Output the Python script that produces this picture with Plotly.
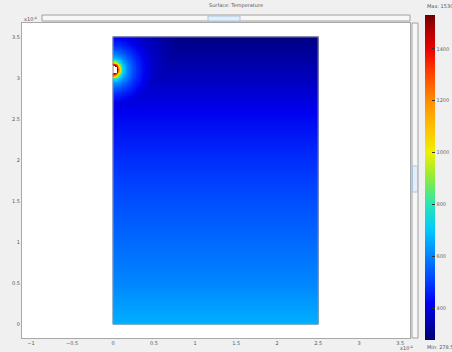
import numpy as np
import plotly.graph_objects as go

# ---- data ----
domain_width = 2.5          # x10^-4
domain_height = 3.5         # x10^-4
source_x = 0.0
source_y = 3.1
hole_radius = 0.05

# background temperature versus height (far from the source)
bg_y = [0.0, 0.5, 1.0, 1.5, 2.0, 2.5, 3.0, 3.5]
bg_T = [665, 605, 565, 525, 480, 430, 360, 300]

# temperature versus distance from the heat source
src_r = [0.05, 0.065, 0.08, 0.095, 0.11, 0.13, 0.16, 0.2, 0.25, 0.3, 0.4, 0.5, 0.8, 1.1]
src_T = [1530, 1350, 1150, 950, 820, 720, 640, 580, 520, 475, 415, 370, 315, 290]

t_min = 278.5
t_max = 1530
x_ticks = [-1, -0.5, 0, 0.5, 1, 1.5, 2, 2.5, 3, 3.5]
y_ticks = [0, 0.5, 1, 1.5, 2, 2.5, 3, 3.5]
cbar_ticks = [400, 600, 800, 1000, 1200, 1400]

# ---- field built from the profiles ----
gx = np.linspace(0, domain_width, 251)
gy = np.linspace(0, domain_height, 351)
X, Y = np.meshgrid(gx, gy)
R = np.hypot(X - source_x, Y - source_y)
T_bg = np.interp(Y, bg_y, bg_T)
T_src = np.interp(R, src_r, src_T, right=0)
Z = np.maximum(T_bg, T_src)
Z = np.round(Z).astype(object)
Z[R < hole_radius] = None
z_list = Z.tolist()

stops = [
    (278, (0, 0, 110)), (350, (0, 0, 180)), (420, (0, 0, 240)), (500, (0, 60, 255)),
    (600, (0, 130, 255)), (700, (0, 200, 255)), (800, (40, 230, 180)), (900, (140, 235, 60)),
    (1000, (240, 240, 0)), (1100, (255, 190, 0)), (1200, (255, 140, 0)), (1300, (255, 70, 0)),
    (1400, (235, 0, 0)), (1480, (170, 0, 0)), (1530, (110, 0, 0)),
]
colorscale = []
for v, c in stops:
    f = min(max((v - t_min) / (t_max - t_min), 0), 1)
    colorscale.append([f, "rgb(%d,%d,%d)" % c])
colorscale[0][0] = 0.0
colorscale[-1][0] = 1.0

W, H = 452, 352
ml, mr, mt, mb = 22, 42, 23, 14
pw, ph = W - ml - mr, H - mt - mb

def px_x(p):
    return (p - ml) / pw

def px_y(p):
    return (H - mb - p) / ph

fig = go.Figure()
fig.add_trace(go.Heatmap(
    x=gx, y=gy, z=z_list, zmin=t_min, zmax=t_max, colorscale=colorscale,
    hoverongaps=False,
    colorbar=dict(
        x=px_x(425), xanchor="left", xpad=0, thickness=10,
        lenmode="pixels", len=325, y=px_y(177.5), yanchor="middle", ypad=0,
        outlinewidth=0, tickvals=cbar_ticks, ticks="inside", ticklen=3,
        tickcolor="#333", tickfont=dict(size=5, color="#666", family="DejaVu Sans"),
    ),
))

fig.add_shape(type="rect", x0=0, y0=0, x1=domain_width, y1=domain_height,
              line=dict(color="#8a8a9a", width=1), layer="above")

# window decorations (scrollbars)
deco = dict(xref="paper", yref="paper")
fig.add_shape(type="rect", x0=px_x(42), x1=px_x(410), y0=px_y(21), y1=px_y(15),
              line=dict(color="#a0a0a0", width=1), fillcolor="#f7f7f7", **deco)
fig.add_shape(type="rect", x0=px_x(208), x1=px_x(240), y0=px_y(21), y1=px_y(16),
              line=dict(color="#a8c4e0", width=1), fillcolor="#e4eefa", **deco)
fig.add_shape(type="rect", x0=px_x(412), x1=px_x(418), y0=px_y(338), y1=px_y(23),
              line=dict(color="#a0a0a0", width=1), fillcolor="#f7f7f7", **deco)
fig.add_shape(type="rect", x0=px_x(412.5), x1=px_x(417.5), y0=px_y(192), y1=px_y(166),
              line=dict(color="#a8c4e0", width=1), fillcolor="#e4eefa", **deco)

small = dict(size=5, color="#555", family="DejaVu Sans")
fig.add_annotation(text="Surface: Temperature", x=px_x(236), y=px_y(6), xref="paper", yref="paper",
                   showarrow=False, font=small, xanchor="center", yanchor="middle")
fig.add_annotation(text="x10<sup>-4</sup>", x=px_x(22), y=px_y(19), xref="paper", yref="paper",
                   showarrow=False, font=small, xanchor="left", yanchor="middle")
fig.add_annotation(text="x10<sup>-4</sup>", x=px_x(398), y=px_y(348), xref="paper", yref="paper",
                   showarrow=False, font=small, xanchor="left", yanchor="middle")
fig.add_annotation(text="Max: %g" % t_max, x=px_x(425), y=px_y(6), xref="paper", yref="paper",
                   showarrow=False, font=small, xanchor="left", yanchor="middle")
fig.add_annotation(text="Min: %.1f" % t_min, x=px_x(425), y=px_y(347), xref="paper", yref="paper",
                   showarrow=False, font=small, xanchor="left", yanchor="middle")

axis_common = dict(showgrid=False, zeroline=False, showline=True, mirror=True,
                   linecolor="#a8a8a8", linewidth=1, ticks="", tickfont=small,
                   automargin=False)
fig.update_xaxes(range=[-1.11, 3.62], tickvals=x_ticks, **axis_common)
fig.update_yaxes(range=[-0.17, 3.67], tickvals=y_ticks, **axis_common)

fig.update_layout(
    width=W, height=H, margin=dict(l=ml, r=mr, t=mt, b=mb, pad=0, autoexpand=False),
    paper_bgcolor="#f0f0f0", plot_bgcolor="#ffffff", showlegend=False,
)
fig.write_html(
    "out.html",
    config={"displayModeBar": False},
    post_script="document.body.style.margin='0';document.body.style.overflow='hidden';",
)
